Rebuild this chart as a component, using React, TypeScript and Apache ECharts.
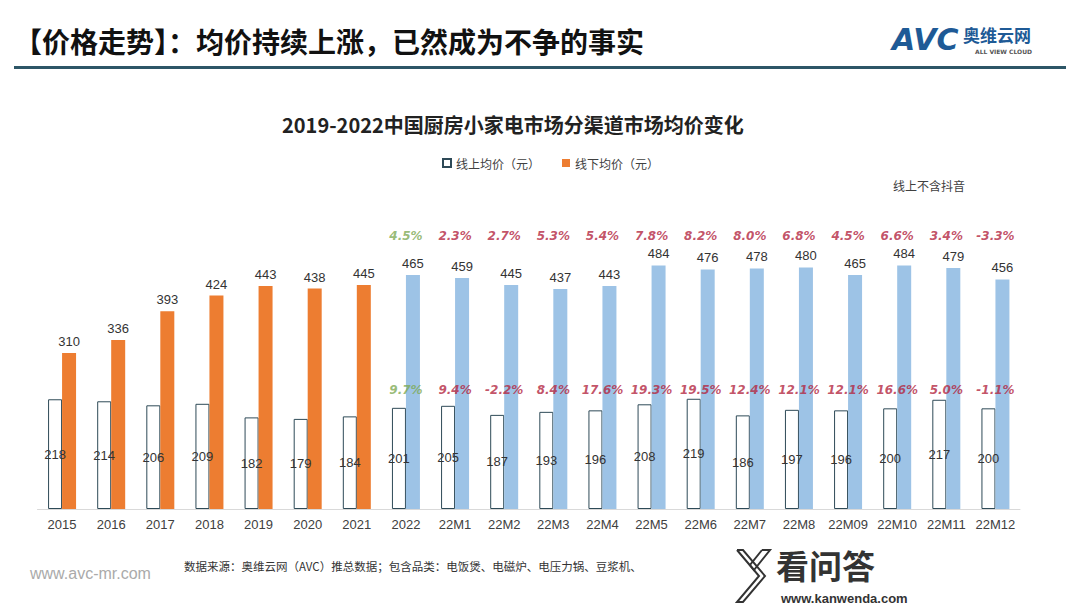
import React, { useEffect, useRef } from "react";
import * as echarts from "echarts";

const categories = [
  "2015", "2016", "2017", "2018", "2019", "2020", "2021", "2022",
  "22M1", "22M2", "22M3", "22M4", "22M5", "22M6", "22M7", "22M8",
  "22M09", "22M10", "22M11", "22M12",
];
const onlinePrice = [218, 214, 206, 209, 182, 179, 184, 201, 205, 187, 193, 196, 208, 219, 186, 197, 196, 200, 217, 200];
const filledPrice = [310, 336, 393, 424, 443, 438, 445, 465, 459, 445, 437, 443, 484, 476, 478, 480, 465, 484, 479, 456];
// growth labels for 2022 onward (category index 7..19)
const growthStart = 7;
const topGrowth = ["4.5%", "2.3%", "2.7%", "5.3%", "5.4%", "7.8%", "8.2%", "8.0%", "6.8%", "4.5%", "6.6%", "3.4%", "-3.3%"];
const lowGrowth = ["9.7%", "9.4%", "-2.2%", "8.4%", "17.6%", "19.3%", "19.5%", "12.4%", "12.1%", "12.1%", "16.6%", "5.0%", "-1.1%"];
const topRowValue = 542;
const lowRowValue = 236;

const ORANGE = "#ED7D31";
const BLUE = "#9DC3E6";
const RED = "#B3263F";
const GREEN = "#7EAA55";

export default function App() {
  const ref = useRef<HTMLDivElement>(null);
  useEffect(() => {
    if (!ref.current) return;
    const chart = echarts.init(ref.current, null, { renderer: "svg" });
    const growthData = (arr: string[], v: number) =>
      arr.map((t, i) => ({
        value: [growthStart + i, v],
        label: { formatter: t, color: i === 0 ? GREEN : RED },
      }));
    const growthLabel = {
      show: true,
      position: "inside",
      fontSize: 12,
      fontWeight: "bold",
      fontStyle: "italic",
      fontFamily: "DejaVu Sans, sans-serif",
    };
    const option = {
      animation: false,
      backgroundColor: "#ffffff",
      grid: { left: 37.5, right: 60, top: 207, bottom: 99 },
      legend: {
        left: 437,
        top: 152,
        itemWidth: 8,
        itemHeight: 8,
        itemGap: 22,
        icon: "rect",
        textStyle: { fontSize: 12, color: "#404040", fontFamily: "Noto Sans CJK SC" },
        data: ["线上均价（元）", "线下均价（元）"],
      },
      xAxis: {
        type: "category",
        data: categories,
        axisLine: { lineStyle: { color: "#d9d9d9" } },
        axisTick: { show: false },
        axisLabel: {
          color: "#404040",
          fontSize: 13,
          margin: 9,
          fontFamily: "Liberation Sans Narrow, Liberation Sans, sans-serif",
          interval: 0,
        },
      },
      yAxis: { type: "value", min: 0, max: 600, show: false, splitLine: { show: false } },
      series: [
        {
          name: "线上均价（元）",
          type: "bar",
          data: onlinePrice,
          barWidth: 14,
          barGap: "0%",
          itemStyle: { color: "#ffffff", borderColor: "#2E4A57", borderWidth: 1 },
          label: {
            show: true,
            position: "inside",
            color: "#333333",
            fontSize: 13,
            fontFamily: "Liberation Sans, sans-serif",
          },
        },
        {
          name: "线下均价（元）",
          type: "bar",
          barWidth: 14,
          itemStyle: { color: ORANGE },
          data: filledPrice.map((v, i) => ({
            value: v,
            itemStyle: { color: i < growthStart ? ORANGE : BLUE },
          })),
          label: {
            show: true,
            position: "top",
            distance: 5,
            color: "#333333",
            fontSize: 13,
            fontFamily: "Liberation Sans, sans-serif",
          },
        },
        {
          type: "scatter",
          symbolSize: 0,
          silent: true,
          data: growthData(topGrowth, topRowValue),
          label: growthLabel,
        },
        {
          type: "scatter",
          symbolSize: 0,
          silent: true,
          data: growthData(lowGrowth, lowRowValue),
          label: growthLabel,
        },
      ],
      graphic: [
        {
          type: "text",
          left: 14,
          top: 27,
          style: {
            text: "【价格走势】：均价持续上涨，已然成为不争的事实",
            font: "bold 28px 'Noto Sans CJK SC'",
            fill: "#111111",
          },
        },
        {
          type: "rect",
          shape: { x: 14, y: 66, width: 1052, height: 3 },
          style: { fill: "#2D5667" },
        },
        {
          type: "text",
          left: 892,
          top: 24,
          style: { text: "AVC", font: "italic bold 30px 'DejaVu Sans'", fill: "#1E5A96" },
        },
        {
          type: "text",
          left: 963,
          top: 26,
          style: { text: "奥维云网", font: "bold 17px 'Noto Sans CJK SC'", fill: "#1E5A96" },
        },
        {
          type: "text",
          left: 975,
          top: 48,
          style: { text: "ALL VIEW CLOUD", font: "bold 6px 'DejaVu Sans'", fill: "#555555" },
        },
        {
          type: "text",
          left: 282,
          top: 114,
          style: {
            text: "2019-2022中国厨房小家电市场分渠道市场均价变化",
            font: "bold 20px 'Noto Sans CJK SC'",
            fill: "#222222",
          },
        },
        {
          type: "text",
          left: 893,
          top: 179,
          style: { text: "线上不含抖音", font: "12px 'Noto Sans CJK SC'", fill: "#404040" },
        },
        {
          type: "text",
          left: 30,
          top: 565,
          style: { text: "www.avc-mr.com", font: "16px 'Liberation Sans'", fill: "#aaaaaa" },
        },
        {
          type: "text",
          left: 184,
          top: 560,
          style: {
            text: "数据来源：奥维云网（AVC）推总数据；包含品类：电饭煲、电磁炉、电压力锅、豆浆机、",
            font: "11.5px 'Noto Sans CJK SC'",
            fill: "#333333",
          },
        },
        {
          type: "polyline",
          shape: { points: [[737, 550], [743, 550], [765, 576], [743, 602], [737, 602], [759, 576], [737, 550]] },
          style: { fill: "none", stroke: "#333333", lineWidth: 2 },
        },
        {
          type: "polyline",
          shape: { points: [[762, 550], [770, 550], [754, 570], [750, 565], [762, 550]] },
          style: { fill: "none", stroke: "#333333", lineWidth: 2 },
        },
        {
          type: "text",
          x: 776,
          y: 565,
          style: {
            text: "看问答",
            font: "bold 33px 'Noto Sans CJK SC'",
            fill: "#333333",
            verticalAlign: "middle",
            lineHeight: 33,
          },
        },
        {
          type: "text",
          left: 781,
          top: 592,
          style: { text: "www.kanwenda.com", font: "bold 13px 'Liberation Sans'", fill: "#333333" },
        },
      ],
    };
    chart.setOption(option as any);
    return () => chart.dispose();
  }, []);
  return (
    <div
      ref={ref}
      style={{ position: "fixed", left: 0, top: 0, width: 1080, height: 608, background: "#fff" }}
    />
  );
}
